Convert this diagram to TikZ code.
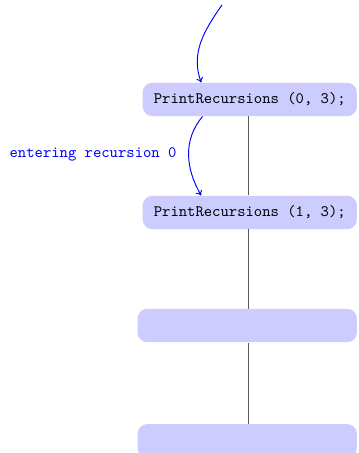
\documentclass[tikz,border=0pt]{standalone}
\usepackage{amsmath, amssymb}
\usepackage{tikz}
\usetikzlibrary{arrows.meta}

\tikzset{
  callbox/.style={fill=blue!20, rounded corners=6pt, font=\ttfamily,
    inner xsep=7pt, minimum height=21pt, anchor=east},
  emptybox/.style={callbox, minimum width=4.85cm},
  callarrow/.style={-{To[length=3pt, width=4.5pt]}, blue, semithick},
}

\begin{document}
\begin{tikzpicture}
        \useasboundingbox (0,0) rectangle (7.92,-10.02);
        % stack of calls
        \node[callbox] (p0) at (7.9,-2.2) {PrintRecursions (0, 3);};
        \node[callbox] (p1) at (7.9,-4.7) {PrintRecursions (1, 3);};
        \node[emptybox] (p2) at (7.9,-7.2) {};
        \node[emptybox] (p3) at (7.9,-9.75) {};
        \foreach \a/\b in {p0/p1, p1/p2, p2/p3} {
          \draw[semithick, black!65] ([xshift=-0.03cm]\a.south -| p0.south) -- ([xshift=-0.03cm]\b.north -| p0.south);
        }
        % arrows into the calls
        \coordinate (start) at (4.91,-0.11);
        \draw[callarrow] (start) to[out=-125, in=110] ([xshift=1.3cm]p0.north west);
        \draw[callarrow] ([xshift=1.33cm]p0.south west) to[out=-130, in=120]
          node[left, xshift=-4pt, font=\ttfamily] (enter) {entering recursion 0}
          ([xshift=1.3cm]p1.north west);
      \end{tikzpicture}
\end{document}
